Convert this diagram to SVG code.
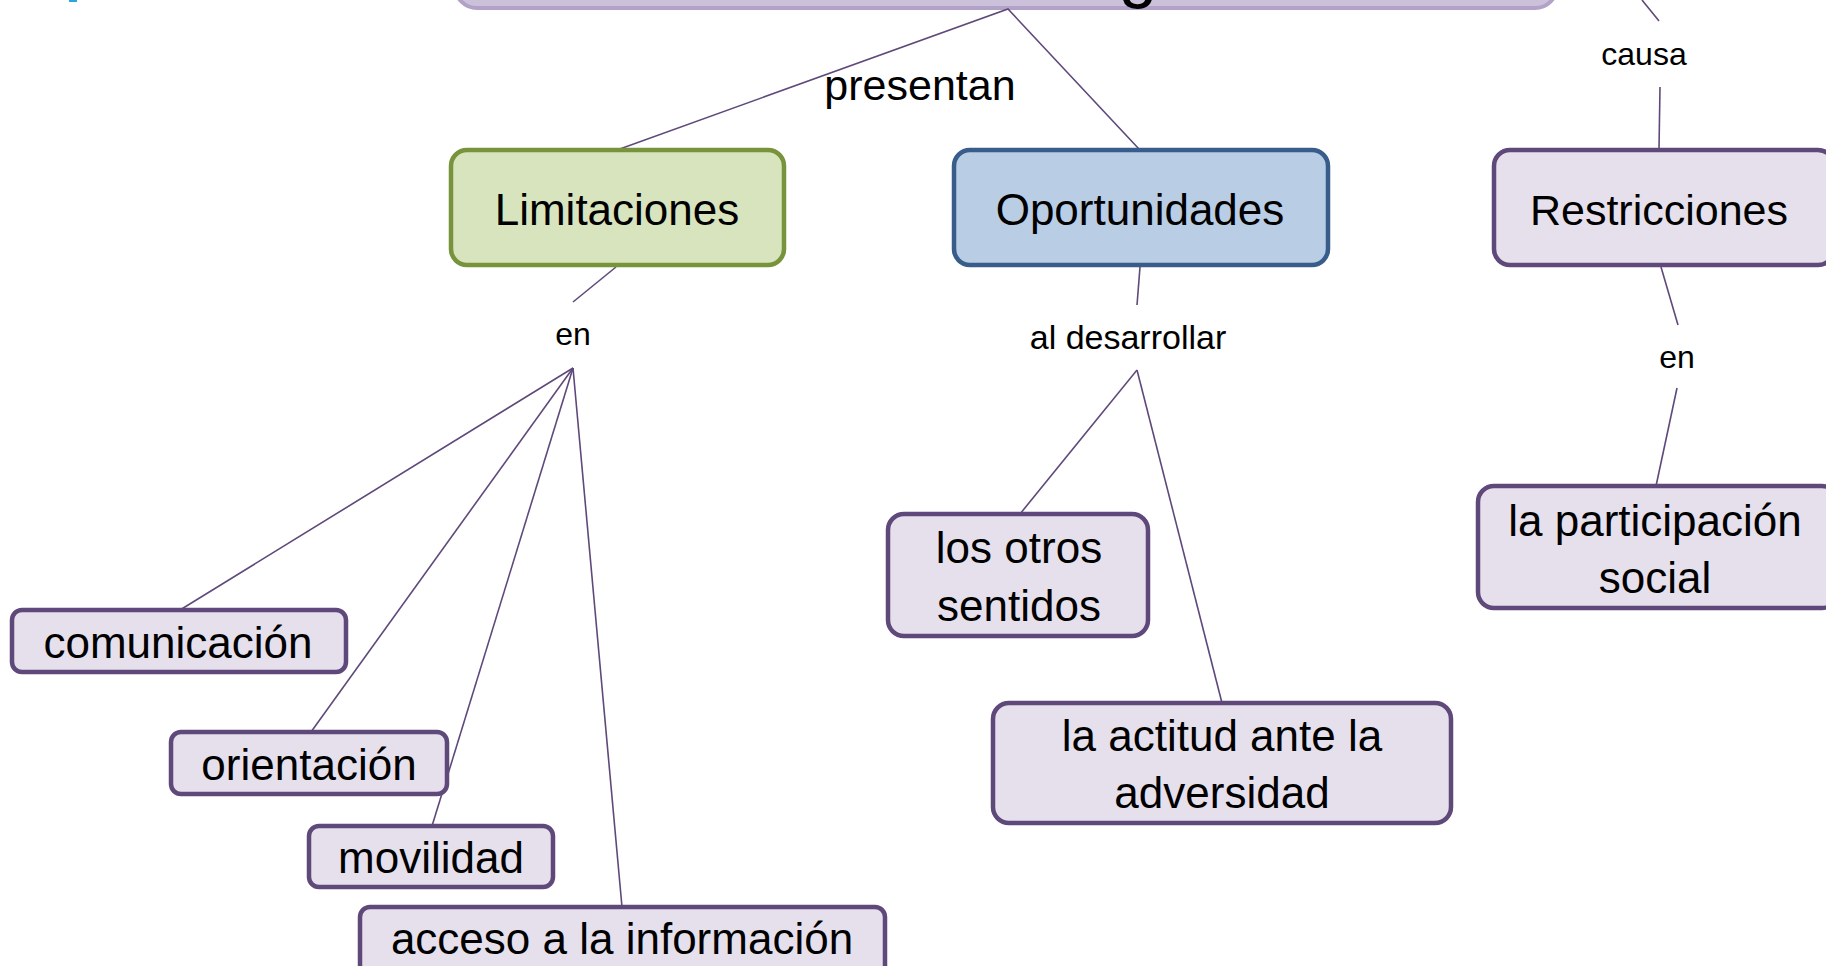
<svg xmlns="http://www.w3.org/2000/svg" width="1826" height="966" viewBox="0 0 1826 966">
<style>
text{font-family:"Liberation Sans",Arial,sans-serif;fill:#000;text-anchor:middle}
.n{font-size:44px}
.l{font-size:32px}
.p{fill:#E5E0EC;stroke:#5F497A;stroke-width:4.5}
.c{stroke:#5F497A;stroke-width:1.6;fill:none}
</style>
<rect x="69" y="0" width="8" height="2" fill="#29A8E0"/>
<g id="title">
<rect x="455" y="-60" width="1102" height="68" rx="22" fill="#CCC1DA" stroke="#B3A2C7" stroke-width="4"/>
<text x="1138" y="-6" style="font-size:70px">g</text>
</g>
<g id="connectors" class="c">
<polyline points="617,150 1008,9 1139,149"/>
<line x1="1642" y1="0" x2="1659" y2="21"/>
<line x1="1660" y1="87" x2="1659" y2="149"/>
<line x1="616" y1="267" x2="573" y2="302"/>
<line x1="573" y1="368" x2="180" y2="610"/>
<line x1="573" y1="368" x2="311" y2="732"/>
<line x1="573" y1="368" x2="432" y2="826"/>
<line x1="573" y1="368" x2="622" y2="907"/>
<line x1="1140" y1="267" x2="1137" y2="305"/>
<line x1="1137" y1="370" x2="1020" y2="514"/>
<line x1="1137" y1="370" x2="1222" y2="703"/>
<line x1="1661" y1="267" x2="1678" y2="325"/>
<line x1="1677" y1="388" x2="1656" y2="486"/>
</g>
<g id="lbl-presentan"><text x="920" y="100" style="font-size:43px">presentan</text></g>
<g id="lbl-causa"><text x="1644" y="65" class="l">causa</text></g>
<g id="lbl-en1"><text x="573" y="345" class="l">en</text></g>
<g id="lbl-desarrollar"><text x="1128" y="349" class="l" style="font-size:34px">al desarrollar</text></g>
<g id="lbl-en2"><text x="1677" y="368" class="l">en</text></g>
<g id="limitaciones">
<rect x="451" y="150" width="333" height="115" rx="16" fill="#D7E4BD" stroke="#77933C" stroke-width="4.5"/>
<text x="617" y="225" class="n">Limitaciones</text>
</g>
<g id="oportunidades">
<rect x="954" y="150" width="374" height="115" rx="16" fill="#B9CDE5" stroke="#385D8A" stroke-width="4.5"/>
<text x="1140" y="225" class="n">Oportunidades</text>
</g>
<g id="restricciones">
<rect x="1494" y="150" width="340" height="115" rx="16" class="p"/>
<text x="1659" y="225" class="n" style="font-size:43px">Restricciones</text>
</g>
<g id="comunicacion">
<rect x="12" y="610" width="334" height="62" rx="10" class="p"/>
<text x="178" y="658" class="n">comunicación</text>
</g>
<g id="orientacion">
<rect x="171" y="732" width="276" height="62" rx="10" class="p"/>
<text x="309" y="780" class="n">orientación</text>
</g>
<g id="movilidad">
<rect x="309" y="826" width="244" height="61" rx="10" class="p"/>
<text x="431" y="873" class="n">movilidad</text>
</g>
<g id="acceso">
<rect x="360" y="907" width="525" height="70" rx="10" class="p"/>
<text x="622" y="954" class="n">acceso a la información</text>
</g>
<g id="otros-sentidos">
<rect x="888" y="514" width="260" height="122" rx="16" class="p"/>
<text x="1019" y="563" class="n">los otros</text>
<text x="1019" y="621" class="n">sentidos</text>
</g>
<g id="actitud">
<rect x="993" y="703" width="458" height="120" rx="16" class="p"/>
<text x="1222" y="751" class="n">la actitud ante la</text>
<text x="1222" y="808" class="n">adversidad</text>
</g>
<g id="participacion">
<rect x="1478" y="486" width="360" height="122" rx="16" class="p"/>
<text x="1655" y="536" class="n">la participación</text>
<text x="1655" y="593" class="n">social</text>
</g>
</svg>
